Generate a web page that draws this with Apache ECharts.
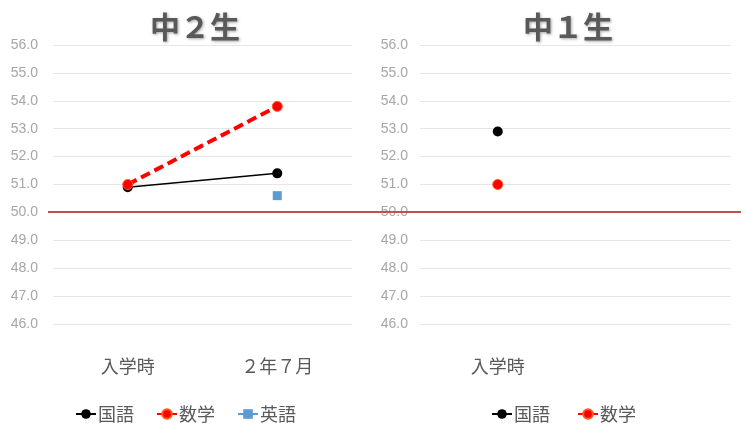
<!DOCTYPE html>
<html><head><meta charset="utf-8">
<script src="https://cdn.jsdelivr.net/npm/echarts@6/dist/echarts.min.js"></script>
<style>html,body{margin:0;padding:0;background:#fff}#c{width:753px;height:446px}</style>
</head><body><div id="c"></div>
<script>
const categoriesG2 = ['入学時', '２年７月'];
const categoriesG1 = ['入学時', ''];
const kokugoG2 = [50.9, 51.4];
const sugakuG2 = [51.0, 53.8];
const eigoG2 = [null, 50.6];
const kokugoG1 = [52.9, null];
const sugakuG1 = [51.0, null];
const yMin = 46, yMax = 56, yStep = 1;
const baseline = 50;

const chart = echarts.init(document.getElementById('c'));
const cjk = '"Noto Sans CJK JP", sans-serif';
const yLab = { color: '#a6a6a6', fontSize: 14, fontFamily: '"Liberation Sans Narrow", "Liberation Sans", sans-serif', formatter: v => v.toFixed(1) };
const xLab = { color: '#595959', fontSize: 18, fontFamily: cjk, margin: 33 };
const split = { show: true, lineStyle: { color: '#e6e6e6', width: 1 } };
const titleStyle = { color: '#595959', fontSize: 30, fontWeight: 'bold', fontFamily: cjk, textShadowColor: 'rgba(0,0,0,0.35)', textShadowBlur: 3, textShadowOffsetX: 1, textShadowOffsetY: 1 };
const legText = { color: '#595959', fontSize: 18, fontFamily: cjk, padding: [0, 0, 0, -3] };

function kokugo(data, xi) {
  return { name: '国語', type: 'line', xAxisIndex: xi, yAxisIndex: xi, data: data, symbol: 'circle', symbolSize: 10,
    itemStyle: { color: '#000000' }, lineStyle: { color: '#000000', width: 1.5 }, z: 3 };
}
function sugaku(data, xi) {
  return { name: '数学', type: 'line', xAxisIndex: xi, yAxisIndex: xi, data: data, symbol: 'circle', symbolSize: 10,
    itemStyle: { color: '#ff0000', borderColor: '#ff5a1a', borderWidth: 1 }, lineStyle: { color: '#ff0000', width: 4, type: [10, 5] }, z: 4 };
}

chart.setOption({
  animation: false,
  title: [
    { text: '中２生', left: 190, top: 7, textAlign: 'center', textStyle: titleStyle },
    { text: '中１生', left: 563, top: 7, textAlign: 'center', textStyle: titleStyle }
  ],
  legend: [
    { data: ['国語', '数学', '英語'], left: 70, top: 400, itemGap: 22, itemWidth: 20, itemHeight: 12, textStyle: legText },
    { data: ['国語', '数学'], left: 486, top: 400, itemGap: 27, itemWidth: 20, itemHeight: 12, textStyle: legText }
  ],
  grid: [
    { left: 53, right: 401, top: 45, bottom: 122 },
    { left: 420, right: 22, top: 45, bottom: 122 },
    { left: 48, right: 12, top: 43, bottom: 122 }
  ],
  xAxis: [
    { type: 'category', gridIndex: 0, data: categoriesG2, axisLine: { show: false }, axisTick: { show: false }, axisLabel: xLab },
    { type: 'category', gridIndex: 1, data: categoriesG1, axisLine: { show: false }, axisTick: { show: false }, axisLabel: xLab },
    { type: 'category', gridIndex: 2, data: ['x'], show: false }
  ],
  yAxis: [
    { type: 'value', gridIndex: 0, min: yMin, max: yMax, interval: yStep, axisLabel: Object.assign({ margin: 15 }, yLab), axisLine: { show: false }, axisTick: { show: false }, splitLine: split },
    { type: 'value', gridIndex: 1, min: yMin, max: yMax, interval: yStep, axisLabel: Object.assign({ margin: 12 }, yLab), axisLine: { show: false }, axisTick: { show: false }, splitLine: split },
    { type: 'value', gridIndex: 2, min: yMin, max: yMax, show: false }
  ],
  series: [
    kokugo(kokugoG2, 0),
    sugaku(sugakuG2, 0),
    { name: '英語', type: 'line', xAxisIndex: 0, yAxisIndex: 0, data: eigoG2, symbol: 'rect', symbolSize: 9,
      itemStyle: { color: '#5b9bd5' }, lineStyle: { color: '#5b9bd5', width: 2 } },
    kokugo(kokugoG1, 1),
    sugaku(sugakuG1, 1),
    { name: 'base', type: 'line', xAxisIndex: 2, yAxisIndex: 2, data: [], silent: true, z: 10,
      markLine: { silent: true, symbol: 'none', label: { show: false }, lineStyle: { color: '#c0504d', width: 2, type: 'solid' }, data: [{ yAxis: baseline }] } }
  ]
});
</script></body></html>
